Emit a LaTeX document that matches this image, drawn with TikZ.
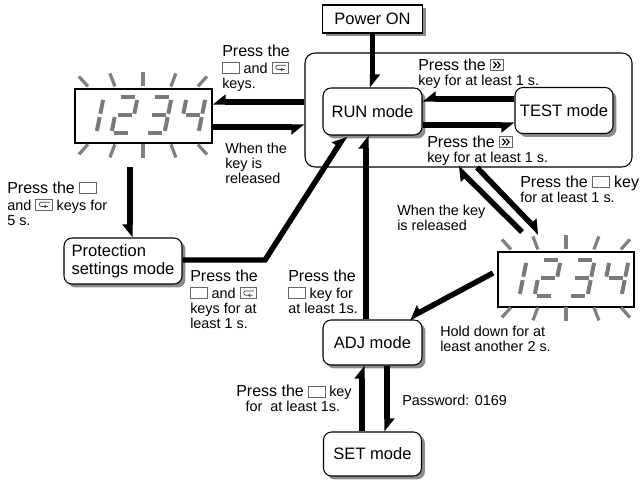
\documentclass[tikz,border=0pt]{standalone}
\usepackage{fontspec}
\setmainfont{Liberation Sans}
\usetikzlibrary{shadows}

\newcommand\fbig{\fontsize{12pt}{14pt}\selectfont}
\newcommand\fsml{\fontsize{10.8pt}{11.25pt}\selectfont}
\newcommand\fnode{\fontsize{12.4pt}{13.5pt}\selectfont}

% Thick shaft with a one-sided (half) head.
% hbL: barb on the left of the direction of travel, hbR: on the right.
\pgfdeclarearrow{
  name = hbL,
  setup code = {
    \pgfarrowssettipend{0pt}
    \pgfarrowssetlineend{-9.4pt}
    \pgfarrowssetvisualbackend{-9.75pt}
    \pgfarrowssetbackend{-9.75pt}
    \pgfarrowshullpoint{0pt}{-2.05pt}
    \pgfarrowshullpoint{-9.75pt}{-2.05pt}
    \pgfarrowshullpoint{-9.75pt}{5.8pt}
  },
  drawing code = {
    \pgfpathmoveto{\pgfqpoint{0pt}{-2.05pt}}
    \pgfpathlineto{\pgfqpoint{-9.75pt}{-2.05pt}}
    \pgfpathlineto{\pgfqpoint{-9.75pt}{5.8pt}}
    \pgfpathclose
    \pgfusepathqfill
  }
}
\pgfdeclarearrow{
  name = hbR,
  setup code = {
    \pgfarrowssettipend{0pt}
    \pgfarrowssetlineend{-9.4pt}
    \pgfarrowssetvisualbackend{-9.75pt}
    \pgfarrowssetbackend{-9.75pt}
    \pgfarrowshullpoint{0pt}{2.05pt}
    \pgfarrowshullpoint{-9.75pt}{2.05pt}
    \pgfarrowshullpoint{-9.75pt}{-5.8pt}
  },
  drawing code = {
    \pgfpathmoveto{\pgfqpoint{0pt}{2.05pt}}
    \pgfpathlineto{\pgfqpoint{-9.75pt}{2.05pt}}
    \pgfpathlineto{\pgfqpoint{-9.75pt}{-5.8pt}}
    \pgfpathclose
    \pgfusepathqfill
  }
}

% key symbols used inside the labels
\newcommand\keyblank{\tikz[baseline=0pt]\draw[line width=0.55pt,black!60] (0pt,0pt) rectangle (12.5pt,8.3pt);}
\newcommand\keymode{\tikz[baseline=0pt]{%
  \draw[line width=0.55pt,black!60] (0pt,0pt) rectangle (12.5pt,8.3pt);
  \draw[line width=0.5pt,black!75] (10.6pt,5.9pt) -- (4.3pt,5.9pt)
      arc[start angle=90,end angle=270,radius=1.6pt] -- (9.4pt,2.7pt);
  \draw[line width=0.5pt,black!75] (7.7pt,3.9pt) -- (6.4pt,2.7pt) -- (7.7pt,1.5pt);}}
\newcommand\keyshift{\tikz[baseline=0pt]{%
  \draw[line width=0.55pt,black!60] (0pt,0pt) rectangle (10pt,8pt);
  \draw[line width=0.9pt,black,line join=miter]
      (2.4pt,1.6pt) -- (4.6pt,4pt) -- (2.4pt,6.4pt)
      (5.2pt,1.6pt) -- (7.4pt,4pt) -- (5.2pt,6.4pt);}}

% seven-segment digits (local px, y downwards)
\def\dgone{19/2.5/19/16.3, 19/19.7/19/33.5}
\def\dgtwo{2.5/0/16.5/0, 19/2.5/19/16.3, 2.5/18/16.5/18, 0/19.7/0/33.5, 2.5/36/16.5/36}
\def\dgthree{2.5/0/16.5/0, 19/2.5/19/16.3, 2.5/18/16.5/18, 19/19.7/19/33.5, 2.5/36/16.5/36}
\def\dgfour{0/2.5/0/16.3, 2.5/18/16.5/18, 19/2.5/19/16.3, 19/19.7/19/33.5}
\newcommand\sevseg[3]{%
  \begin{scope}[shift={(#1+7.2,#2)},xslant=0.2]
    \foreach \xa/\ya/\xb/\yb in #3 {\draw[seg] (\xa,\ya) -- (\xb,\yb);}
  \end{scope}}
% blinking display: rays round the frame and the digits 1234
\newcommand\dispart[1]{%
  \begin{scope}[shift={(#1.north west)}]
    \foreach \a/\b/\c/\d in {13.5/-2/4.5/-12, 40.5/-2/35.5/-15, 68.5/-2/68.5/-16,
        96.5/-2/101.5/-15, 123.5/-2/132.5/-12, 13.5/56/4.5/66, 40.5/56/35.5/69,
        68.5/56/68.5/70, 96.5/56/101.5/69, 123.5/56/132.5/66}
      {\draw[ray] (\a,\b) -- (\c,\d);}
    \sevseg{3}{9}{\dgone}
    \sevseg{37}{9}{\dgtwo}
    \sevseg{71}{9}{\dgthree}
    \sevseg{105}{9}{\dgfour}
  \end{scope}}

\begin{document}
\begin{tikzpicture}[x=0.75pt,y=-0.75pt,
  arr/.style={line width=4.1pt,black},
  ray/.style={line width=2.4pt,black!50},
  seg/.style={line width=3pt,black!52},
  shade/.style={general shadow={fill=black!45,shadow xshift=2.6pt,shadow yshift=-2.6pt}},
  modebox/.style={draw,line width=0.8pt,fill=white,rounded corners=6pt,font=\fnode,
    inner sep=0pt,align=center,shade},
  dispbox/.style={draw,line width=0.9pt,inner sep=0pt},
  lbl/.style={anchor=north west,inner sep=0pt,align=left,font=\fsml},
  sz/.style 2 args={minimum width=#1*0.75pt,minimum height=#2*0.75pt}]

\fill[white] (0,0) rectangle (642,481);
\useasboundingbox (0,0) rectangle (642,481);

% boxes
\node[draw,line width=0.8pt,fill=white,font=\fnode,inner sep=0pt,shade,sz={100}{28}] (power) at (372.5,19) {Power ON};
\node[draw,line width=0.8pt,rounded corners=7.5pt,sz={327}{114}] (runbox) at (468.5,110) {};
\node[modebox,sz={99}{47}] (run) at (372.5,111.5) {RUN mode};
\node[modebox,sz={98}{46}] (test) at (564,110.5) {TEST mode};
\node[modebox,align=left,sz={118}{46}] (prot) at (123,261) {Protection\\settings mode};
\node[modebox,sz={99}{45}] (adj) at (372.5,342.5) {ADJ mode};
\node[modebox,sz={98}{44}] (set) at (372.5,454) {SET mode};

% displays
\node[dispbox,sz={137}{54}] (disp1) at (143.5,116) {};
\node[dispbox,sz={136}{55}] (disp2) at (566,279.5) {};
\dispart{disp1}
\dispart{disp2}

% free ends of connectors
\coordinate (d1foot) at (130,167);
\coordinate (pbend) at (265,260);
\coordinate (d2l) at (522,232);
\coordinate (d2r) at (540,233);
\coordinate (d2w) at (493,273);

% connectors
\draw[arr,-hbL] (power.south) -- (run.north);
\draw[arr,-hbR] (test.west |- 0,99) -- (run.east |- 0,99);
\draw[arr,-hbR] (run.east |- 0,125) -- (test.west |- 0,125);
\draw[arr,-hbR] (runbox.west |- 0,102) -- (disp1.east |- 0,102);
\draw[arr,-hbR] (disp1.east |- 0,127) -- (runbox.west |- 0,127);
\draw[arr,-hbR] (d1foot) -- (prot.north -| d1foot);
\draw[arr,-hbL] (prot.east |- pbend) -- (pbend) -- (run.south -| 345,0);
\draw[arr,-hbL] (adj.north -| 366,0) -- (run.south -| 366,0);
\draw[arr,-hbL] (d2l) -- (runbox.south -| 457,0);
\draw[arr,-hbL] (runbox.south -| 477,0) -- (d2r);
\draw[arr,-hbR] (d2w) -- (409,318);
\draw[arr,-hbL] (set.north -| 362,0) -- (adj.south -| 362,0);
\draw[arr,-hbL] (adj.south -| 387,0) -- (set.north -| 387,0);

% labels
\node[lbl] (tA) at (222,44) {\rule{0pt}{9pt}{\fbig Press the}\\[1.4pt]\keyblank{} and \keymode\\keys.};
\node[lbl] (tB) at (225,141.5) {\rule{0pt}{9pt}When the\\key is\\released};
\node[lbl] (tC) at (418,58) {\rule{0pt}{9pt}{\fbig Press the} \keyshift\\key for at least 1 s.};
\node[lbl] (tD) at (427,135) {\rule{0pt}{9pt}{\fbig Press the} \keyshift\\key for at least 1 s.};
\node[lbl] (tE) at (520,175) {\rule{0pt}{9pt}{\fbig Press the \keyblank{} key}\\for at least 1 s.};
\node[lbl] (tF) at (397,203) {\rule{0pt}{9pt}When the key\\is released};
\node[lbl] (tG) at (440,324.7) {\rule{0pt}{9pt}Hold down for at\\least another 2 s.};
\node[lbl] (tH) at (190,269.7) {\rule{0pt}{9pt}{\fbig Press the}\\[1.4pt]\keyblank{} and \keymode\\keys for at\\least 1 s.};
\node[lbl] (tI) at (288,269) {\rule{0pt}{9pt}{\fbig Press the}\\[1.4pt]\keyblank{} key for\\at least 1s.};
\node[lbl] (tJ) at (236,384.7) {\rule{0pt}{9pt}{\fbig Press the} \keyblank{} key\\\hspace*{7pt}for\ \ at least 1s.};
\node[lbl] (tK) at (402,393) {\rule{0pt}{9pt}Password: 0169};
\node[lbl] (tL) at (7,181) {\rule{0pt}{9pt}{\fbig Press the} \keyblank\\[1.4pt]and \keymode{} keys for\\5 s.};

\end{tikzpicture}
\end{document}
